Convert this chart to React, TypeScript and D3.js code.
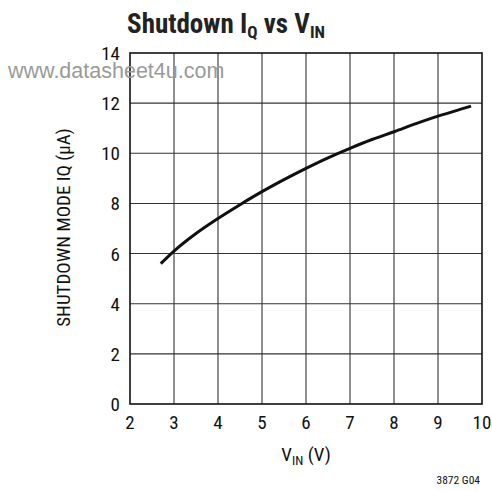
import React from "react";
import * as d3 from "d3";

const WIDTH = 492;
const HEIGHT = 491;
const MARGIN = { top: 53, right: 10, bottom: 87, left: 130 };

const xTicks = [2, 3, 4, 5, 6, 7, 8, 9, 10];
const yTicks = [0, 2, 4, 6, 8, 10, 12, 14];

const vin = [2.7, 3, 3.5, 4, 4.5, 5, 5.5, 6, 6.5, 7, 7.5, 8, 8.5, 9, 9.5, 9.75];
const iq = [5.6, 6.1, 6.8, 7.4, 7.95, 8.47, 8.95, 9.4, 9.82, 10.2, 10.55, 10.86, 11.18, 11.48, 11.75, 11.88];

const FONT = "'Liberation Sans Narrow', 'Roboto Condensed', 'Liberation Sans', Arial, sans-serif";

export default function App() {
  const boundsWidth = WIDTH - MARGIN.left - MARGIN.right;
  const boundsHeight = HEIGHT - MARGIN.top - MARGIN.bottom;

  const xScale = d3.scaleLinear().domain([2, 10]).range([0, boundsWidth]);
  const yScale = d3.scaleLinear().domain([0, 14]).range([boundsHeight, 0]);

  const line = d3
    .line<number>()
    .x((d, i) => xScale(vin[i]))
    .y((d) => yScale(d))
    .curve(d3.curveMonotoneX);

  return (
    <svg width={WIDTH} height={HEIGHT} style={{ position: "absolute", left: 0, top: 0 }}>
      <rect width={WIDTH} height={HEIGHT} fill="white" />
      <text x={226} y={33} textAnchor="middle" fontFamily={FONT} fontWeight="bold" fontSize={27} fill="#222">
        Shutdown I<tspan fontSize={17} dy={5}>Q</tspan>
        <tspan dy={-5}> vs V</tspan>
        <tspan fontSize={17} dy={5}>IN</tspan>
      </text>
      <g transform={`translate(${MARGIN.left},${MARGIN.top})`}>
        {xTicks.slice(1, -1).map((t) => (
          <line key={"x" + t} x1={xScale(t)} x2={xScale(t)} y1={0} y2={boundsHeight} stroke="#333" strokeWidth={1.1} />
        ))}
        {yTicks.slice(1, -1).map((t) => (
          <line key={"y" + t} x1={0} x2={boundsWidth} y1={yScale(t)} y2={yScale(t)} stroke="#333" strokeWidth={1.1} />
        ))}
        <rect x={0} y={0} width={boundsWidth} height={boundsHeight} fill="none" stroke="#111" strokeWidth={1.6} />
        <path d={line(iq) || ""} fill="none" stroke="#111" strokeWidth={3} />
        {xTicks.map((t) => (
          <text key={"xl" + t} x={xScale(t)} y={boundsHeight + 25} textAnchor="middle" fontFamily={FONT} fontSize={19} fill="#111">
            {t}
          </text>
        ))}
        {yTicks.map((t) => (
          <text key={"yl" + t} x={-10} y={yScale(t) + 7} textAnchor="end" fontFamily={FONT} fontSize={19} fill="#111">
            {t}
          </text>
        ))}
        <text x={boundsWidth / 2} y={boundsHeight + 57} textAnchor="middle" fontFamily={FONT} fontSize={19} fill="#111">
          V<tspan fontSize={13} dy={4}>IN</tspan>
          <tspan dy={-4}> (V)</tspan>
        </text>
        <text
          transform={`translate(${-60},${boundsHeight / 2 - 1}) rotate(-90)`}
          textAnchor="middle"
          fontFamily={FONT}
          fontSize={19}
          fill="#111"
        >
          SHUTDOWN MODE IQ (µA)
        </text>
      </g>
      <text x={480} y={484} textAnchor="end" fontFamily={FONT} fontSize={11.5} fill="#111">
        3872 G04
      </text>
      <text x={8} y={78} fontFamily="'Liberation Sans', Arial, sans-serif" fontSize={21.5} fill="#9a9a9a">
        www.datasheet4u.com
      </text>
    </svg>
  );
}
